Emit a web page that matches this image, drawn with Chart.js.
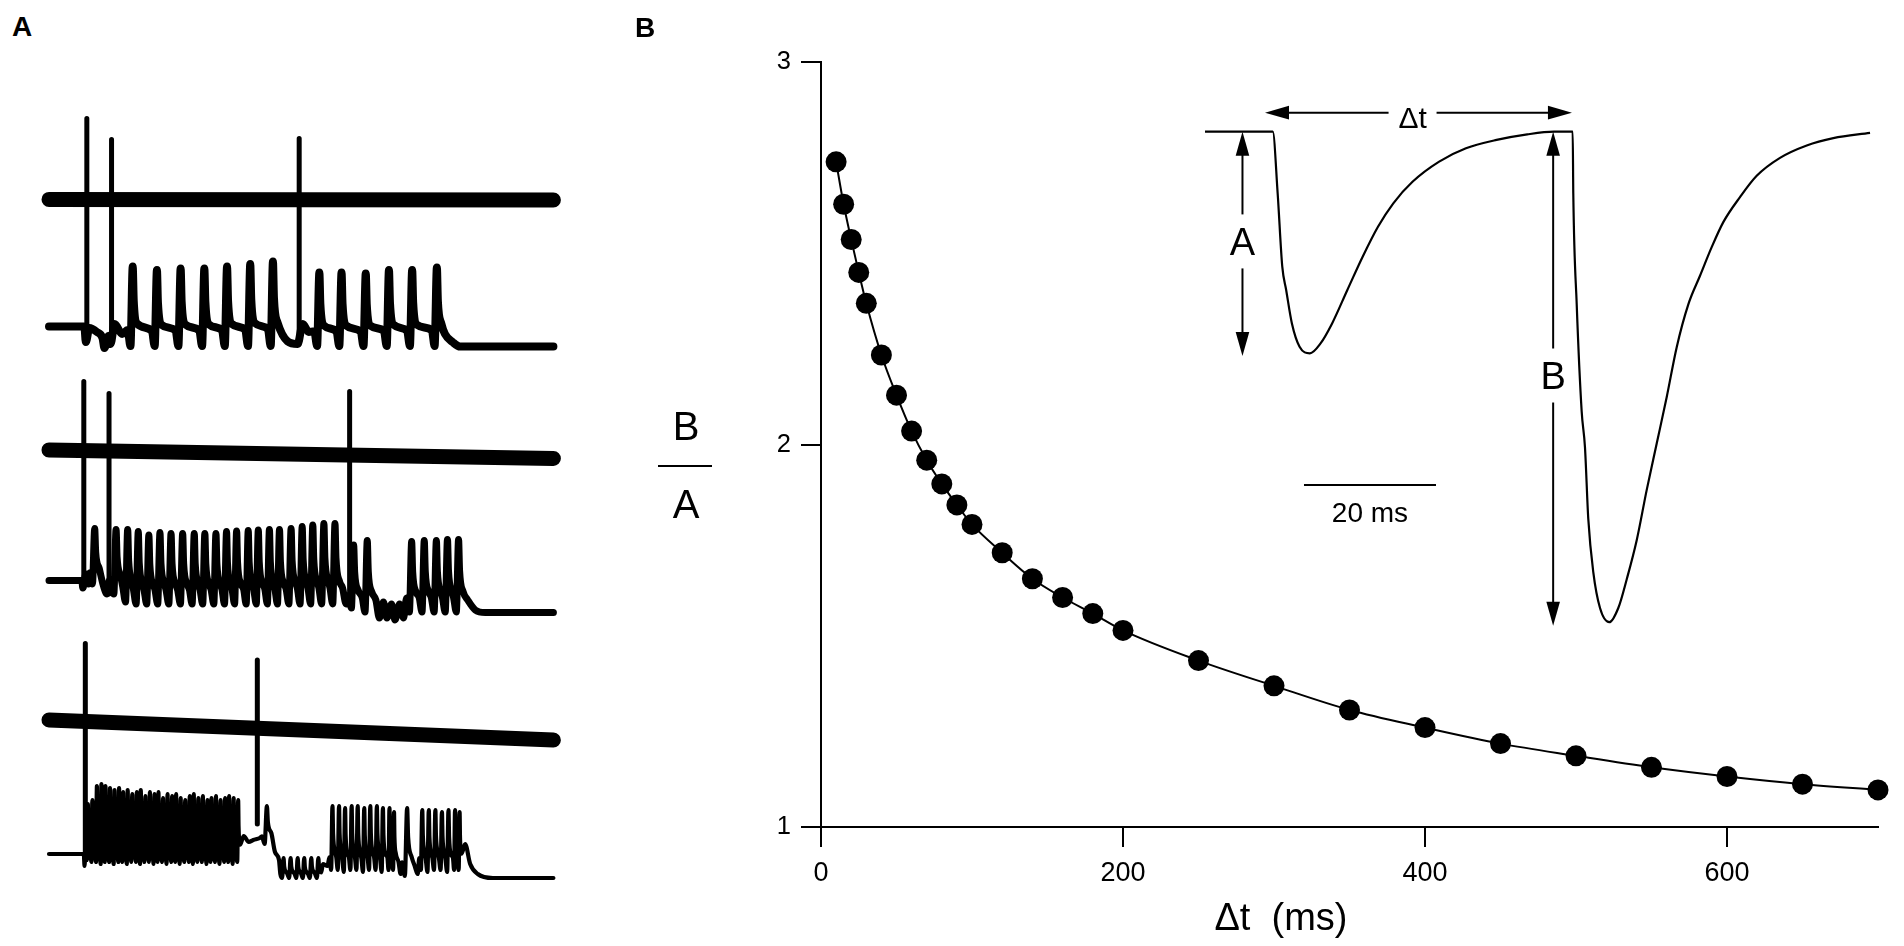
<!DOCTYPE html>
<html><head><meta charset="utf-8">
<script src="https://cdn.jsdelivr.net/npm/chart.js@4.4.1/dist/chart.umd.min.js"></script>
<style>
html,body{margin:0;padding:0;background:#fff;width:1904px;height:946px;overflow:hidden;font-family:"Liberation Sans",Arial,sans-serif;}
canvas{position:absolute;}
.lbl{position:absolute;line-height:1;color:#000;white-space:pre;}
</style></head><body>
<canvas id="cA" width="540" height="790" style="left:30px;top:100px"></canvas>
<canvas id="cB" width="1304" height="946" style="left:600px;top:0px"></canvas>
<canvas id="cI" width="710" height="560" style="left:1190px;top:95px"></canvas>
<div class="lbl" style="left:12px;top:13px;font-size:28px;font-weight:bold">A</div>
<div class="lbl" style="left:635px;top:14px;font-size:28px;font-weight:bold">B</div>
<div class="lbl" style="left:656px;width:60px;text-align:center;top:406px;font-size:40px">B</div>
<div style="position:absolute;left:658px;top:465px;width:54px;height:2px;background:#000"></div>
<div class="lbl" style="left:656px;width:60px;text-align:center;top:484px;font-size:40px">A</div>
<div class="lbl" style="left:1131px;width:300px;text-align:center;top:898px;font-size:38px">Δt  (ms)</div>
<script>
const F = "'Liberation Sans', Arial, Helvetica, sans-serif";

// ---------- Panel B: B/A versus Δt ----------
const dtValues    = [10,15,20,25,30,40,50,60,70,80,90,100,120,140,160,180,200,250,300,350,400,450,500,550,600,650,700];
const ratioValues = [2.739,2.628,2.536,2.450,2.369,2.234,2.129,2.035,1.959,1.897,1.842,1.791,1.717,1.649,1.600,1.558,1.514,1.435,1.369,1.306,1.260,1.218,1.186,1.156,1.132,1.112,1.097];
const xTicks = [0,200,400,600];
const yTicks = [1,2,3];

// ---------- Inset: paired current responses (time ms, current, A = 100) ----------
const insetT = [-10.15,0.12,0.86,1.56,2.15,3.02,4.18,5.74,7.36,9.11,11.42,13.74,16.06,18.38,21.29,25.33,29.39,34.03,38.68,42.73,
                45.56,45.65,46.17,46.92,47.42,47.92,48.68,49.70,51.11,52.47,53.74,55.26,56.77,58.29,59.80,61.32,63.08,64.85,66.62,68.38,70.91,73.44,76.97,81.02,85.05,90.61];
const insetI = [0,0,-27.8,-60.9,-71.4,-86.5,-97.0,-100,-95.5,-86.5,-71.4,-56.4,-42.9,-32.3,-22.6,-13.5,-7.5,-3.7,-1.2,0,
                0,-27.9,-77.9,-126.2,-142.3,-174.6,-198.7,-214.9,-221.3,-214.9,-202.0,-184.3,-161.7,-140.7,-119.8,-97.2,-77.9,-65.0,-52.1,-40.8,-29.5,-19.9,-11.8,-6.2,-2.9,-0.5];
const vArrowT = [-4.47, 42.6];
const vArrowTop = [0, 0];
const vArrowBottom = [-101.2, -222.9];
const vArrowLabels = ['A','B'];
const vArrowLabelAt = [-49.5, -110];
const dtArrowFrom = -1.06, dtArrowTo = 45.45, dtArrowLevel = 8.6, dtLabelAt = 21.3;
const scaleBarT = [4.85, 24.85], scaleBarLevel = -159.4, scaleBarLabel = '20 ms';

// ---------- Panel A: recorded traces (time units, potential units) ----------
// row 1
const r1UpperT = [0,100], r1UpperV = [-49.7,-50.0];
const r1BigT = [7.5,12.4,49.6], r1BigBase = [-121,-122,-122], r1BigTop = [-9.2,-19.7,-19.2];
const r1SpikeT = [16.6,21.4,26.1,30.8,35.3,39.9,44.4,53.6,58.0,62.8,67.4,72.0,76.9];
const r1SpikePeak = [-83.3,-85.0,-84.2,-84.2,-83.3,-82.0,-80.8,-86.3,-86.3,-86.7,-85.0,-85.0,-83.7];
const r1SpikeTrough = [-123,-123,-123,-123,-123,-123,-123,-123,-123,-123,-123,-123,-123];
const r1Rest = [[0,-113.3],[7.0,-113.3],[7.3,-121],[8.0,-114],[9.5,-116],[10.6,-119],[11.0,-124],[11.8,-118],[12.2,-122],[13.0,-112],[14.5,-117],
                [49.3,-122],[50.3,-112],[51.5,-116],[78.5,-117],[80,-121],[81.5,-123.3],[100,-123.3]];
// row 2
const r2UpperT = [0,100], r2UpperV = [-175,-179.2];
const r2BigT = [6.9,11.9,59.6], r2BigBase = [-244,-247,-252], r2BigTop = [-140.8,-146.7,-145.8];
const r2SpikeT = [9.06,13.3,15.6,17.7,19.8,22.0,24.2,26.5,28.8,30.9,33.1,35.2,37.2,39.5,41.5,43.7,45.7,48.0,50.2,52.3,54.5,56.7,60.4,63.1,71.9,74.4,76.8,79.0,81.2];
const r2SpikePeak = [-214.2,-214.7,-214.7,-215.8,-217.5,-216.3,-216.7,-216.7,-216.7,-216.7,-216.7,-215.8,-215.5,-215.3,-215.0,-214.7,-214.7,-214.2,-213.3,-212.5,-211.7,-211.7,-222.5,-220.3,-220.8,-220.3,-220.3,-219.7,-219.7];
const r2SpikeTrough = [-242,-247,-251,-252,-252,-252,-252,-252,-252,-252,-252,-252,-252,-252,-252,-252,-252,-252,-252,-252,-252,-252,-254,-256,-256,-256,-256,-256,-256];
const r2Rest = [[0,-240.3],[6.5,-240.3],[6.7,-244],[7.3,-237],[7.8,-242],[10.8,-243],[11.5,-247],[12.0,-240],[58.2,-244],[58.9,-252],
                [64.8,-250],[65.5,-259],[66.3,-251],[67.0,-259],[67.9,-252],[68.6,-260],[69.5,-252],[70.3,-259],[83.0,-250],[84.5,-255],[86.5,-256.3],[100,-256.3]];
// row 3
const r3UpperT = [0,100], r3UpperV = [-310,-320];
const r3BigT = [7.2,41.3], r3BigBase = [-380,-362], r3BigTop = [-271.7,-280];
const r3SpikeT = [7.7,8.6,9.5,10.4,11.2,12.1,13.0,13.9,14.7,15.6,16.5,17.4,18.2,19.1,20.0,20.9,21.7,22.6,23.5,24.4,25.2,26.1,27.0,27.9,28.7,29.6,30.5,31.4,32.2,33.1,34.0,34.9,35.7,36.6,37.5,
                  43.2, 46.5,47.9,49.3,50.6,52.0,53.4,
                  56.2,57.5,58.7,60.0,61.2,62.5,63.7,65.0,66.2,67.5,68.4, 71.0,
                  74.0,75.3,76.6,77.9,79.2,80.5,81.4];
const r3SpikePeak = [-352,-350,-343,-342,-343,-344,-345,-344,-346,-345,-347,-346,-345,-348,-346,-347,-346,-349,-347,-348,-347,-349,-350,-348,-347,-349,-348,-350,-349,-348,-350,-349,-348,-349,-350,
                     -353, -379,-379,-379,-379,-379,-379,
                     -353,-353,-354,-353,-353,-354,-353,-353,-354,-354,-356, -354,
                     -355,-355,-355,-356,-355,-355,-356];
const r3SpikeTrough = [-380,-381,-381,-382,-381,-381,-382,-381,-381,-382,-381,-381,-382,-381,-381,-382,-381,-381,-382,-381,-381,-382,-381,-381,-382,-381,-381,-382,-381,-381,-382,-381,-381,-382,-381,
                       -372, -389,-389,-389,-389,-389,-389,
                       -385,-385,-386,-385,-385,-386,-385,-385,-386,-385,-385, -388,
                       -385,-386,-385,-385,-386,-385,-385];
const r3Rest = [[0,-377],[6.9,-377],[7.05,-383],[7.2,-374],[38.6,-368],[39.6,-371],[40.5,-370],[41.8,-369],[44.8,-376],[45.6,-380],[54.3,-382],[55.2,-383],
                [69.3,-381],[69.7,-387],[72.5,-383],[73.1,-387],[82.5,-372],[83.5,-382],[85,-387],[88,-389],[100,-389]];

// build a trace polyline from read spike times / peaks / troughs plus the read resting points
function traceData(rest, times, peaks, troughs){
  const pts = rest.map(p => ({x:p[0], y:p[1]}));
  times.forEach((t,i) => {
    const gp = i>0 ? t-times[i-1] : 3, gn = i<times.length-1 ? times[i+1]-t : 3;
    const s = Math.min(1, Math.min(gp,gn)/2.2);
    const p = peaks[i], d = troughs[i], sh = p + (d-p)*0.72;
    pts.push({x:t-1.0*s, y:d+(p-d)*0.2},{x:t-0.45*s, y:d},{x:t, y:p},{x:t+0.2*s, y:p+(sh-p)*0.6},{x:t+0.9*s, y:sh});
  });
  pts.sort((a,b)=>a.x-b.x);
  return pts;
}
function pairData(ts, vs){ return ts.map((t,i)=>({x:t, y:vs[i]})); }
function bigData(ts, base, top){
  const out=[]; ts.forEach((t,i)=>{ out.push({x:t,y:base[i]},{x:t,y:top[i]},{x:t,y:null}); }); return out;
}
function lineDs(data, w, extra){
  return Object.assign({data, borderColor:'#000', backgroundColor:'#000', borderWidth:w, pointRadius:0,
    borderCapStyle:'round', borderJoinStyle:'round', clip:false, spanGaps:false}, extra||{});
}

Chart.defaults.font.family = F;
Chart.defaults.color = '#000';

// Panel A chart
new Chart(document.getElementById('cA'), {
  type:'line',
  data:{datasets:[
    lineDs(pairData(r1UpperT,r1UpperV),15),
    lineDs(traceData(r1Rest,r1SpikeT,r1SpikePeak,r1SpikeTrough),8,{cubicInterpolationMode:'monotone'}),
    lineDs(bigData(r1BigT,r1BigBase,r1BigTop),5),
    lineDs(pairData(r2UpperT,r2UpperV),15),
    lineDs(traceData(r2Rest,r2SpikeT,r2SpikePeak,r2SpikeTrough),7,{cubicInterpolationMode:'monotone'}),
    lineDs(bigData(r2BigT,r2BigBase,r2BigTop),5),
    lineDs(pairData(r3UpperT,r3UpperV),15),
    lineDs(traceData(r3Rest,r3SpikeT,r3SpikePeak,r3SpikeTrough),4.2,{cubicInterpolationMode:'monotone'}),
    lineDs(bigData(r3BigT,r3BigBase,r3BigTop),5)
  ]},
  options:{responsive:false, animation:false, devicePixelRatio:1, events:[],
    layout:{padding:0},
    plugins:{legend:{display:false}, tooltip:{enabled:false}},
    scales:{x:{type:'linear', display:false, min:-3.767, max:103.29},
            y:{type:'linear', display:false, min:-395, max:0}}}
});

// Panel B chart
new Chart(document.getElementById('cB'), {
  type:'line',
  data:{datasets:[{
    data: dtValues.map((v,i)=>({x:v, y:ratioValues[i]})),
    borderColor:'#000', backgroundColor:'#000', borderWidth:2,
    pointRadius:10.5, pointBorderWidth:0, pointBackgroundColor:'#000',
    cubicInterpolationMode:'monotone', clip:false
  }]},
  options:{responsive:false, animation:false, devicePixelRatio:1, events:[],
    layout:{padding:{left:121, right:26, top:62, bottom:19}},
    plugins:{legend:{display:false}, tooltip:{enabled:false}},
    scales:{
      x:{type:'linear', min:0, max:700,
         afterBuildTicks:s=>{ s.ticks = xTicks.map(v=>({value:v})); },
         afterFit:s=>{ s.height = 100; },
         grid:{display:true, drawOnChartArea:false, drawTicks:true, tickLength:20, color:'#000', lineWidth:2},
         border:{display:true, color:'#000', width:2},
         ticks:{color:'#000', font:{family:F, size:27}, padding:10, maxRotation:0, autoSkip:false}},
      y:{type:'linear', min:1, max:3,
         afterBuildTicks:s=>{ s.ticks = yTicks.map(v=>({value:v})); },
         afterFit:s=>{ s.width = 100; },
         grid:{display:true, drawOnChartArea:false, drawTicks:true, tickLength:20, color:'#000', lineWidth:2},
         border:{display:true, color:'#000', width:2},
         ticks:{color:'#000', font:{family:F, size:25.5}, padding:10, autoSkip:false}}
    }}
});

// Inset chart with arrows, labels and scale bar
const insetDecor = {
  id:'insetDecor',
  afterDatasetsDraw(chart){
    const ctx = chart.ctx, xs = chart.scales.x, ys = chart.scales.y;
    const HL = 24, HW = 6.8;
    ctx.save();
    ctx.strokeStyle = '#000'; ctx.fillStyle = '#000'; ctx.lineWidth = 2;
    const seg = (x1,y1,x2,y2)=>{ ctx.beginPath(); ctx.moveTo(x1,y1); ctx.lineTo(x2,y2); ctx.stroke(); };
    const head = (tx,ty,dx,dy)=>{ const bx=tx-dx*HL, by=ty-dy*HL; ctx.beginPath(); ctx.moveTo(tx,ty);
      ctx.lineTo(bx-dy*HW, by+dx*HW); ctx.lineTo(bx+dy*HW, by-dx*HW); ctx.closePath(); ctx.fill(); };
    const label = (txt,x,y,size)=>{ ctx.font = size+'px '+F; ctx.textAlign='center'; ctx.textBaseline='alphabetic'; ctx.fillText(txt,x,y+0.358*size); };
    vArrowT.forEach((t,i)=>{
      const px = xs.getPixelForValue(t), y1 = ys.getPixelForValue(vArrowTop[i]),
            y2 = ys.getPixelForValue(vArrowBottom[i]), yl = ys.getPixelForValue(vArrowLabelAt[i]);
      seg(px, y1+HL-2, px, yl-27); seg(px, yl+27, px, y2-HL+2);
      head(px, y1, 0, -1); head(px, y2, 0, 1);
      label(vArrowLabels[i], px, yl, 38);
    });
    const ya = ys.getPixelForValue(dtArrowLevel), xa1 = xs.getPixelForValue(dtArrowFrom),
          xa2 = xs.getPixelForValue(dtArrowTo), xl = xs.getPixelForValue(dtLabelAt);
    seg(xa1+HL-2, ya, xl-24, ya); seg(xl+24, ya, xa2-HL+2, ya);
    head(xa1, ya, -1, 0); head(xa2, ya, 1, 0);
    label('Δt', xl, ya+5, 30);
    const yb = ys.getPixelForValue(scaleBarLevel);
    seg(xs.getPixelForValue(scaleBarT[0]), yb, xs.getPixelForValue(scaleBarT[1]), yb);
    label(scaleBarLabel, xs.getPixelForValue((scaleBarT[0]+scaleBarT[1])/2), yb+27, 28);
    ctx.restore();
  }
};
new Chart(document.getElementById('cI'), {
  type:'line',
  data:{datasets:[lineDs(pairData(insetT, insetI), 2.2, {cubicInterpolationMode:'monotone', borderCapStyle:'butt'})]},
  options:{responsive:false, animation:false, devicePixelRatio:1, events:[],
    layout:{padding:0},
    plugins:{legend:{display:false}, tooltip:{enabled:false}},
    scales:{x:{type:'linear', display:false, min:-12.42, max:95.15},
            y:{type:'linear', display:false, min:-236.1, max:16.56}}},
  plugins:[insetDecor]
});
</script>
</body></html>
